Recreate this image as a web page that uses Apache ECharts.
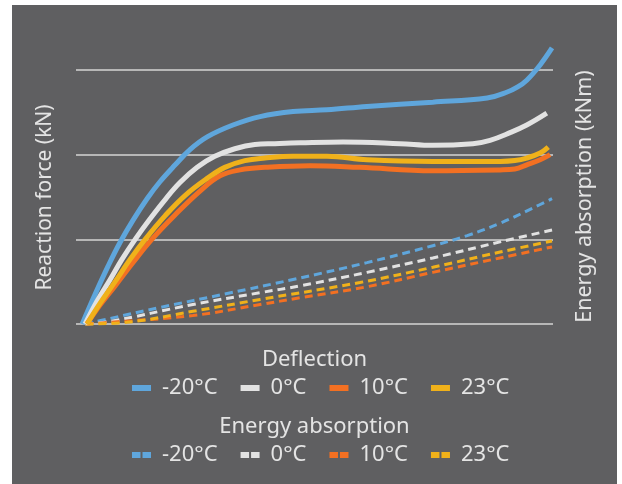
<!DOCTYPE html>
<html>
<head>
<meta charset="utf-8">
<script src="https://cdn.jsdelivr.net/npm/echarts@6/dist/echarts.min.js"></script>
<style>
html,body{margin:0;padding:0;background:#ffffff;width:622px;height:484px;overflow:hidden;}
#chart{position:absolute;left:12px;top:5px;width:605px;height:479px;}
</style>
</head>
<body>
<div id="chart"></div>
<script>
// Temperature categories
var temps = ['-20°C', '0°C', '10°C', '23°C'];
var colors = ['#5fa6dc', '#e2e2e2', '#f37022', '#f0b11a'];

// Deflection (relative, 0-100) vs reaction force (left axis, gridline units)
var force_m20 = [[1.3,0],[4.0,0.35],[6.7,0.68],[9.2,0.96],[12.0,1.23],[14.9,1.48],[17.6,1.68],[20.8,1.88],[23.9,2.06],[27.5,2.21],[32.9,2.35],[38.6,2.45],[45.5,2.51],[52.6,2.53],[61,2.57],[74.8,2.62],[86.2,2.67],[90.4,2.74],[92.6,2.8],[94.5,2.88],[97.3,3.06],[99.8,3.26]];
var force_0 = [[1.9,0],[4.4,0.27],[7.1,0.52],[9.6,0.76],[12.4,1.0],[15.5,1.24],[18.7,1.47],[21.8,1.67],[25.4,1.85],[29.1,1.98],[33.3,2.07],[37.5,2.12],[41.7,2.13],[47,2.14],[56,2.15],[67.9,2.13],[74.8,2.11],[83.2,2.13],[86.8,2.17],[91,2.26],[94.5,2.35],[98.7,2.49]];
var force_10 = [[2.3,0],[5.0,0.22],[8.2,0.45],[12.0,0.73],[15.9,1.0],[20.8,1.29],[26,1.57],[30.2,1.75],[34.4,1.82],[39.6,1.85],[49.1,1.87],[59.5,1.85],[74.8,1.81],[88.9,1.82],[92,1.83],[94.5,1.88],[97.3,1.94],[99.4,2.0]];
var force_23 = [[2.3,0],[5.0,0.24],[8.2,0.5],[11.3,0.76],[14.5,1.0],[18.7,1.28],[22.9,1.52],[27.5,1.72],[31.2,1.85],[35.4,1.93],[39.6,1.96],[45.5,1.98],[52.6,1.98],[61,1.94],[74.8,1.92],[88.9,1.92],[92,1.93],[94.5,1.96],[97.3,2.02],[99,2.09]];

// Deflection vs energy absorption (right axis)
var energy_m20 = [[1.9,0],[7.1,0.065],[17.6,0.195],[31.7,0.36],[45.5,0.525],[61,0.725],[74.8,0.925],[82,1.044],[88.9,1.19],[95.8,1.37],[99.8,1.48]];
var energy_0 = [[2,0],[7.1,0.03],[24.5,0.23],[38.6,0.37],[47,0.45],[61,0.61],[74.8,0.78],[88.9,0.97],[99.8,1.11]];
var energy_10 = [[2,0],[7.1,0.02],[24.5,0.1],[38.6,0.23],[47,0.31],[61,0.44],[74.8,0.61],[88.9,0.78],[99.8,0.91]];
var energy_23 = [[2,0],[10.7,0.02],[24.5,0.15],[38.6,0.29],[59.5,0.49],[74.8,0.67],[88.9,0.85],[99.8,0.98]];

var forceData = [force_m20, force_0, force_10, force_23];
var energyData = [energy_m20, energy_0, energy_10, energy_23];

var txt = '#e4e4e4';
var font = 'Noto Sans';

var series = [];
var drawOrder = [0, 1, 2, 3];
drawOrder.forEach(function (i) {
  series.push({
    name: temps[i] + ' ',
    type: 'line', yAxisIndex: 1, data: energyData[i], smooth: 0.4,
    showSymbol: false, clip: false, silent: true,
    itemStyle: {color: colors[i]},
    lineStyle: {color: colors[i], width: 3, type: [8, 5]}
  });
});
drawOrder.forEach(function (i) {
  series.push({
    name: temps[i],
    type: 'line', yAxisIndex: 0, data: forceData[i], smooth: 0.4,
    showSymbol: false, clip: false, silent: true,
    itemStyle: {color: colors[i]},
    lineStyle: {color: colors[i], width: 5}
  });
});

var legendText = {color: txt, fontSize: 22, fontFamily: font, padding: [0, 0, 0, 6]};

var chart = echarts.init(document.getElementById('chart'));
chart.setOption({
  backgroundColor: '#5f5f61',
  animation: false,
  textStyle: {fontFamily: font},
  grid: {left: 64, right: 64, top: 65, bottom: 160},
  xAxis: {type: 'value', min: 0, max: 100, show: true,
    axisLine: {show: false}, axisTick: {show: false}, axisLabel: {show: false}, splitLine: {show: false}},
  yAxis: [
    {type: 'value', min: 0, max: 3, interval: 1,
      axisLine: {show: false}, axisTick: {show: false}, axisLabel: {show: false},
      splitLine: {show: true, lineStyle: {color: '#d4d4d4', width: 1.5}}},
    {type: 'value', min: 0, max: 3, interval: 1, position: 'right',
      axisLine: {show: false}, axisTick: {show: false}, axisLabel: {show: false},
      splitLine: {show: false}}
  ],
  legend: [
    {data: temps, top: 372, left: 120, padding: 0, icon: 'rect', itemWidth: 19, itemHeight: 6, itemGap: 23,
      textStyle: legendText,
      formatter: function (n) { return n.trim(); }, selectedMode: false},
    {data: temps.map(function (t) { return t + ' '; }), top: 439, left: 120, padding: 0,
      icon: 'path://M0,0H8.5V6H0Z M10.5,0H19V6H10.5Z', itemWidth: 19, itemHeight: 6, itemGap: 23,
      itemStyle: {borderWidth: 0},
      textStyle: legendText,
      formatter: function (n) { return n.trim(); }, selectedMode: false}
  ],
  graphic: [
    {type: 'text', x: 302.5, y: 355, style: {text: 'Deflection', fill: txt, font: '22px "Noto Sans"', textAlign: 'center', textVerticalAlign: 'middle'}},
    {type: 'text', x: 302.5, y: 422, style: {text: 'Energy absorption', fill: txt, font: '22px "Noto Sans"', textAlign: 'center', textVerticalAlign: 'middle'}},
    {type: 'text', x: 33, y: 192.5, rotation: Math.PI / 2, style: {text: 'Reaction force (kN)', fill: txt, font: '21px "Noto Sans"', textAlign: 'center', textVerticalAlign: 'middle'}},
    {type: 'text', x: 573, y: 191.5, rotation: Math.PI / 2, style: {text: 'Energy absorption (kNm)', fill: txt, font: '21.5px "Noto Sans"', textAlign: 'center', textVerticalAlign: 'middle'}}
  ],
  series: series
});
</script>
</body>
</html>
